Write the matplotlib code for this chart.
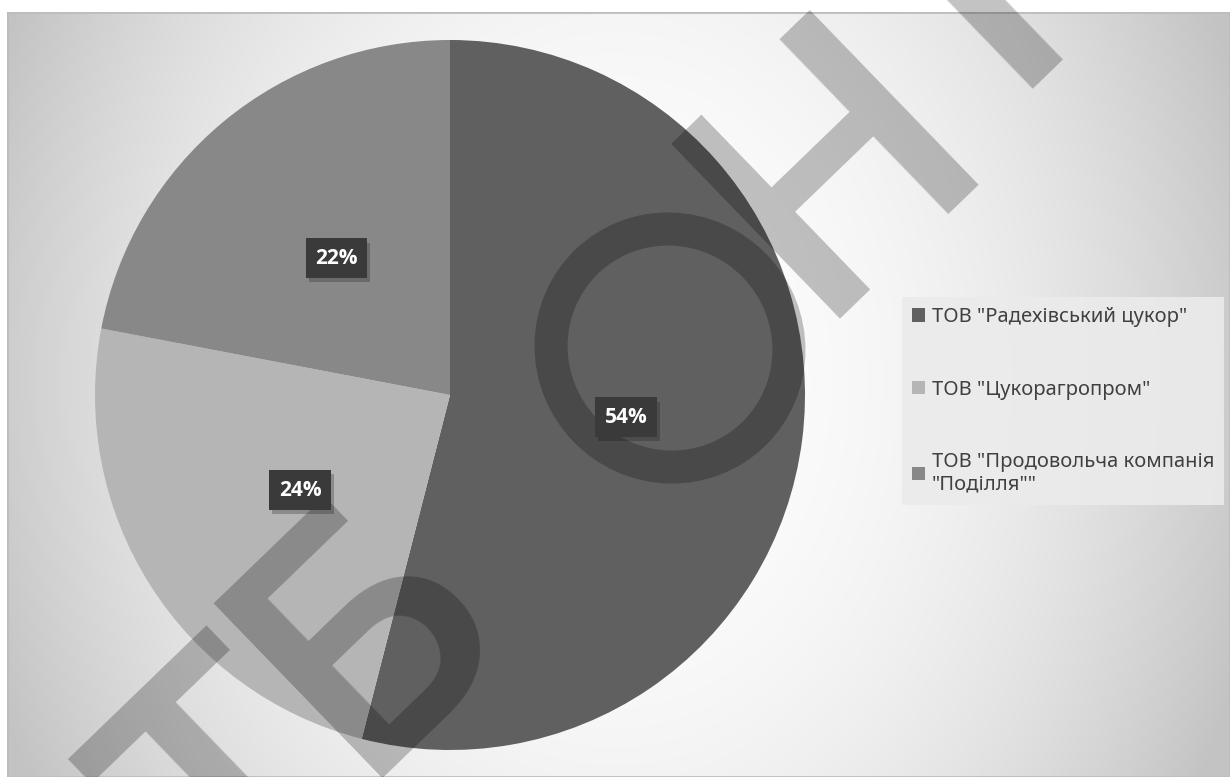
import numpy as np
import matplotlib
matplotlib.use('Agg')
import matplotlib.pyplot as plt
from matplotlib.patches import Rectangle, Ellipse
from matplotlib.transforms import IdentityTransform
import matplotlib.patheffects as pe

plt.rcParams['font.family'] = ['Noto Sans', 'DejaVu Sans']

# дані
labels = ['ТОВ "Радехівський цукор"', 'ТОВ "Цукорагропром"',
          'ТОВ "Продовольча компанія\n"Поділля""']
shares = [54, 24, 22]
colors = ['#606060', '#b5b5b5', '#888888']

# водяний знак: літери та їх центри (пікселі від лівого верхнього кута)
wm_letters = ['Т', 'Б', 'Н', 'Т']
wm_x = [220, 352, 818, 962]
wm_y = [775, 616, 147, -18]

fig = plt.figure(figsize=(12.3, 7.77), dpi=100)
W, H = 1230, 777

# фон з градієнтом
bg = fig.add_axes([7 / W, 0, 1 - 7 / W, 1 - 12 / H])
yy, xx = np.mgrid[12:777, 7:1230]
d = np.sqrt(((xx - 615) / 615.0) ** 2 + ((yy - 380) / 800.0) ** 2)
g = np.clip(254 - 50 * d ** 2.2, 196, 252) / 255.0
bg.imshow(np.dstack([g, g, g]), aspect='auto', extent=[0, 1, 0, 1], origin='upper')
bg.set_xlim(0, 1)
bg.set_ylim(0, 1)
bg.axis('off')
bg.add_patch(Rectangle((0, 0), 1, 1, fill=False, edgecolor='#bdbdbd', lw=2,
                       transform=bg.transAxes))

# кругова діаграма
cx, cy, r = 450, 395, 355
ax = fig.add_axes([(cx - r) / W, (H - cy - r) / H, 2 * r / W, 2 * r / H])
wedges, texts, autotexts = ax.pie(shares, colors=colors, startangle=90, counterclock=False,
                                  autopct='%1.0f%%', pctdistance=0.5,
                                  wedgeprops=dict(linewidth=0),
                                  textprops=dict(color='white', fontsize=15, fontweight='bold',
                                                 family=['Open Sans', 'DejaVu Sans']))
for t in autotexts:
    t.set_bbox(dict(boxstyle='square,pad=0.45', facecolor='#3a3a3a', edgecolor='none'))
    t.get_bbox_patch().set_path_effects([pe.SimplePatchShadow(offset=(2, -3), alpha=0.25),
                                         pe.Normal()])
    t.set_zorder(5)
ax.set_xlim(-1, 1)
ax.set_ylim(-1, 1)
ax.axis('off')

# водяний знак
ang = 44
fs = 246
em = fs * 100 / 72.0
s, c = np.sin(np.radians(ang)), np.cos(np.radians(ang))
for ch, x, y in zip(wm_letters, wm_x, wm_y):
    bx = x + 0.355 * em * s
    by = y + 0.355 * em * c
    ax.text(bx / W, 1 - by / H, ch, transform=fig.transFigure, fontsize=fs,
            family='Roboto', fontweight='medium', color='black', alpha=0.24,
            rotation=ang, rotation_mode='anchor', ha='center', va='baseline',
            clip_on=False, zorder=2)
ax.add_patch(Ellipse((670, H - 348), 236, 240, angle=ang, fill=False, edgecolor='black',
                     alpha=0.24, lw=33 * 72 / 100.0, transform=IdentityTransform(),
                     clip_on=False, zorder=2))

leg = fig.legend(wedges, labels, loc='upper left',
                 bbox_to_anchor=(892 / W, 1 - 508 / H, 342 / W, 221 / H), mode='expand',
                 frameon=True, fancybox=False, fontsize=14.5,
                 handlelength=0.63, handleheight=0.63, handletextpad=0.35,
                 labelspacing=2.6, borderpad=0.5)
leg.get_frame().set_facecolor('#ebebeb')
leg.get_frame().set_edgecolor('none')
leg.get_frame().set_alpha(0.9)
for t in leg.get_texts():
    t.set_color('#404040')

fig.savefig('out.png', dpi=100, facecolor='white')
